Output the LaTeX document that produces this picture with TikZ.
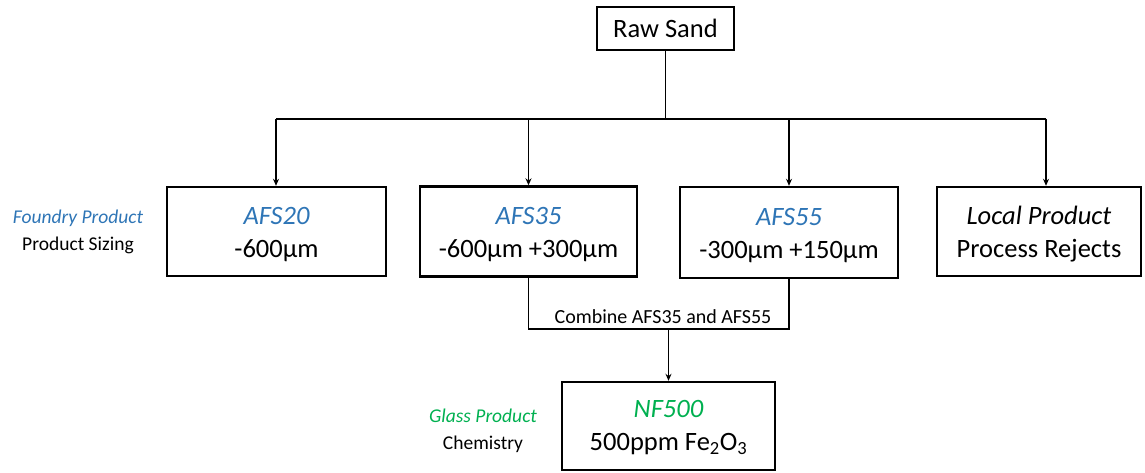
\documentclass[tikz,border=0pt]{standalone}
\usepackage{fontspec}
\setmainfont{Carlito}
\usetikzlibrary{arrows.meta}
\definecolor{afsblue}{RGB}{46,117,182}
\definecolor{glassgreen}{RGB}{0,176,80}
\begin{document}
\begin{tikzpicture}[x=1pt,y=-1pt,
  box/.style={draw, line width=2.4pt, inner sep=0pt},
  boxtext/.style={inner sep=0pt, align=center, font=\fontsize{26.5}{33}\selectfont},
  conn/.style={line width=1.3pt},
  arr/.style={conn, -{Stealth[length=7pt,width=6pt]}},
  side/.style={align=center, font=\fontsize{19.5}{27}\selectfont, inner sep=0pt},
  lbl/.style={font=\fontsize{20}{22}\selectfont, inner sep=0pt}]
\useasboundingbox (0,0) rectangle (1145,473);
\node[box, boxtext, minimum width=137pt, minimum height=43pt] (raw) at (665.5,28.5) {Raw Sand};
\node[box, minimum width=219pt, minimum height=89pt] (afs20) at (276.5,231.5) {};
\node[box, minimum width=217pt, minimum height=90pt] (afs35) at (528.5,231.5) {};
\node[box, minimum width=218pt, minimum height=91pt] (afs55) at (789,232.5) {};
\node[box, minimum width=204pt, minimum height=89pt] (local) at (1039,231.5) {};
\node[box, minimum width=213pt, minimum height=88pt] (nf) at (668.5,426) {};
\node[boxtext] (afs20t) at ([yshift=-3pt]afs20.center) {\textcolor{afsblue}{\itshape AFS20}\\-600µm};
\node[boxtext] (afs35t) at ([yshift=-3pt]afs35.center) {\textcolor{afsblue}{\itshape AFS35}\\-600µm +300µm};
\node[boxtext] (afs55t) at ([yshift=-3pt]afs55.center) {\textcolor{afsblue}{\itshape AFS55}\\-300µm +150µm};
\node[boxtext] (localt) at ([yshift=-3pt]local.center) {{\itshape Local Product}\\Process Rejects};
\node[boxtext] (nft) at ([yshift=-2pt]nf.center) {\textcolor{glassgreen}{\itshape NF500}\\500ppm Fe\textsubscript{2}O\textsubscript{3}};
\node[side] (found) at (78,232) {\textcolor{afsblue}{\itshape Foundry Product}\\Product Sizing};
\node[side] (glass) at (483,431) {\textcolor{glassgreen}{\itshape Glass Product}\\Chemistry};
\coordinate (b1) at (276,119);
\coordinate (b2) at (528.5,119);
\coordinate (b3) at (789,119);
\coordinate (b4) at (1046,119);
\coordinate (cl) at (528.5,329);
\coordinate (cr) at (789,329);
\coordinate (cm) at (668.5,329);
\draw[conn] (raw.south) -- (raw.south |- b1);
\draw[conn] (b1) -- (b4);
\draw[arr] (b1) -- (b1 |- afs20.north);
\draw[arr] (b2) -- (b2 |- afs35.north);
\draw[arr] (b3) -- (b3 |- afs55.north);
\draw[arr] (b4) -- (b4 |- local.north);
\draw[conn] (afs35.south) -- (cl) -- (cr) -- (afs55.south);
\node[lbl, anchor=base] (comb) at (663,323) {Combine AFS35 and AFS55};
\draw[arr] (cm) -- (nf.north);
\end{tikzpicture}
\end{document}
